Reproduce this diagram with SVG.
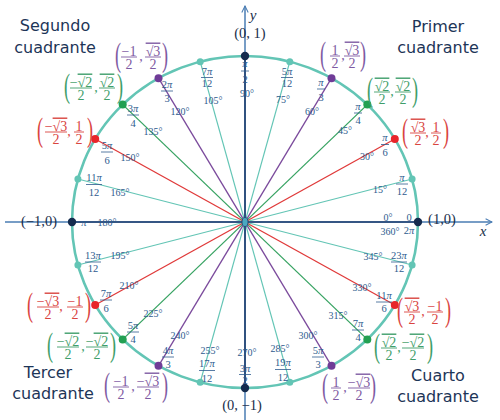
<svg xmlns="http://www.w3.org/2000/svg" width="500" height="420" viewBox="0 0 500 420">
<style>
.bg{fill:#ffffff}
.axis{stroke:#4a7db3;stroke-width:1.5;fill:none}
.nv{stroke:#1f3f6e;stroke-width:1.6}
.tl{stroke:#63c5b5;stroke-width:1.2}
.rd{stroke:#e03a3a;stroke-width:1.3}
.gr{stroke:#37a362;stroke-width:1.3}
.pu{stroke:#7b4a9c;stroke-width:1.3}
.circle{fill:none;stroke:#63c5b5;stroke-width:2.6}
.dtl{fill:#63c5b5}
.drd{fill:#e8252a}
.dgr{fill:#22a052}
.dpu{fill:#6f3c97}
.dnv{fill:#142b4e}
.rad{font-family:"Liberation Serif",serif;font-size:10.5px;fill:#2d5b8e;text-anchor:middle}
.pi{font-style:italic}
.deg{font-family:"Liberation Serif",serif;font-size:10px;fill:#2d5b8e;text-anchor:middle}
.rb{stroke:#2d5b8e;stroke-width:0.8}
.q{font-family:"DejaVu Sans",sans-serif;font-size:16px;fill:#1d3557;text-anchor:middle}
.pt{font-family:"Liberation Serif",serif;font-size:14.5px;fill:#1a2e4a;text-anchor:middle}
.ax{font-family:"Liberation Serif",serif;font-size:15px;font-style:italic;fill:#1a2e4a;text-anchor:middle}
.c{font-family:"Liberation Serif",serif;font-size:14px;text-anchor:middle}
.par{font-family:"Liberation Serif",serif;font-size:33px;text-anchor:middle}
.cpu{fill:#7e5aa2}.cgr{fill:#3f9e6a}.crd{fill:#d9443f}
.bpu{stroke:#7e5aa2;stroke-width:0.9}.bgr{stroke:#3f9e6a;stroke-width:0.9}.brd{stroke:#d9443f;stroke-width:0.9}
.ov{text-decoration:overline}
</style>
<defs>
<marker id="arr" viewBox="0 0 10 10" refX="9" refY="5" markerWidth="8" markerHeight="8" orient="auto" markerUnits="userSpaceOnUse">
<path d="M1,1 L9,5 L1,9" fill="none" stroke="#4a7db3" stroke-width="1.3"/>
</marker>
</defs>
<rect class="bg" x="0" y="0" width="500" height="420"/>

<g id="axes">
<line class="axis" x1="5" y1="222" x2="492" y2="222" marker-end="url(#arr)"/>
<line class="axis" x1="245" y1="420" x2="245" y2="6" marker-end="url(#arr)"/>
<text class="ax" x="483" y="236">x</text>
<text class="ax" x="253" y="20">y</text>
</g>

<g id="connectors">
<line class="tl" x1="412.1" y1="179" x2="77.9" y2="265"/>
<line class="tl" x1="289.8" y1="61.7" x2="200.2" y2="382.3"/>
<line class="tl" x1="200.2" y1="61.7" x2="289.8" y2="382.3"/>
<line class="tl" x1="77.9" y1="179" x2="412.1" y2="265"/>
<line class="rd" x1="394.8" y1="139" x2="95.2" y2="305"/>
<line class="rd" x1="95.2" y1="139" x2="394.8" y2="305"/>
<line class="gr" x1="367.3" y1="104.6" x2="122.7" y2="339.4"/>
<line class="gr" x1="122.7" y1="104.6" x2="367.3" y2="339.4"/>
<line class="pu" x1="331.5" y1="78.2" x2="158.5" y2="365.8"/>
<line class="pu" x1="158.5" y1="78.2" x2="331.5" y2="365.8"/>
<line class="nv" x1="72" y1="222" x2="418" y2="222"/>
<line class="nv" x1="245" y1="56" x2="245" y2="388"/>
</g>

<g id="unit-circle">
<ellipse class="circle" cx="245" cy="222" rx="173" ry="166"/>
</g>

<g id="origin">
<ellipse cx="245" cy="222" rx="3" ry="4.5" fill="#4aa9c0" stroke="#1f3f6e" stroke-width="0.8"/>
</g>

<g id="quadrant-labels">
<text class="q" x="55" y="31">Segundo</text>
<text class="q" x="55" y="53">cuadrante</text>
<text class="q" x="438" y="32">Primer</text>
<text class="q" x="438" y="53">cuadrante</text>
<text class="q" x="48" y="378">Tercer</text>
<text class="q" x="53" y="399">cuadrante</text>
<text class="q" x="438" y="381">Cuarto</text>
<text class="q" x="438" y="402">cuadrante</text>
</g>

<!-- 0 / 360 -->
<g id="p0">
<circle class="dnv" cx="418" cy="222" r="4.2"/>
<text class="rad" x="409" y="221">0</text>
<text class="rad" x="409" y="234">2<tspan class="pi">π</tspan></text>
<text class="deg" x="388" y="221">0°</text>
<text class="deg" x="390" y="235">360°</text>
<text class="pt" x="442" y="224">(1,0)</text>
</g>

<g id="p15">
<circle class="dtl" cx="412.1" cy="179" r="3.5"/>
<text class="rad" x="402" y="180.5"><tspan class="pi">π</tspan></text>
<line class="rb" x1="396" y1="184" x2="408" y2="184"/>
<text class="rad" x="402" y="194.5">12</text>
<text class="deg" x="380" y="192.5">15°</text>
</g>

<g id="p30">
<circle class="drd" cx="394.8" cy="139" r="4"/>
<text class="rad" x="385" y="140.5"><tspan class="pi">π</tspan></text>
<line class="rb" x1="381" y1="144.5" x2="389" y2="144.5"/>
<text class="rad" x="385" y="155.5">6</text>
<text class="deg" x="367" y="159.5">30°</text>
<g>
<text class="par crd" transform="translate(405,142) scale(0.55,1)">(</text>
<text class="c crd" x="418" y="131.5"><tspan class="ov">√3</tspan></text>
<line class="brd" x1="410" y1="133" x2="426" y2="133"/>
<text class="c crd" x="418" y="145">2</text>
<text class="c crd" x="427" y="137">,</text>
<text class="c crd" x="436" y="131.5">1</text>
<line class="brd" x1="431" y1="133" x2="441" y2="133"/>
<text class="c crd" x="436" y="145">2</text>
<text class="par crd" transform="translate(446,142) scale(0.55,1)">)</text>
</g>
</g>

<g id="p45">
<circle class="dgr" cx="367.3" cy="104.6" r="4"/>
<text class="rad" x="358" y="109.5"><tspan class="pi">π</tspan></text>
<line class="rb" x1="354" y1="113" x2="362" y2="113"/>
<text class="rad" x="358" y="123.5">4</text>
<text class="deg" x="345" y="133.5">45°</text>
<g>
<text class="par cgr" transform="translate(370,101) scale(0.55,1)">(</text>
<text class="c cgr" x="382" y="90.5"><tspan class="ov">√2</tspan></text>
<line class="bgr" x1="374" y1="92" x2="390" y2="92"/>
<text class="c cgr" x="382" y="104">2</text>
<text class="c cgr" x="392" y="96">,</text>
<text class="c cgr" x="403" y="90.5"><tspan class="ov">√2</tspan></text>
<line class="bgr" x1="395" y1="92" x2="411" y2="92"/>
<text class="c cgr" x="403" y="104">2</text>
<text class="par cgr" transform="translate(415,101) scale(0.55,1)">)</text>
</g>
</g>

<g id="p60">
<circle class="dpu" cx="331.5" cy="78.2" r="4"/>
<text class="rad" x="321" y="85.5"><tspan class="pi">π</tspan></text>
<line class="rb" x1="317" y1="89" x2="325" y2="89"/>
<text class="rad" x="321" y="100.5">3</text>
<text class="deg" x="312" y="114.5">60°</text>
<g>
<text class="par cpu" transform="translate(323,65) scale(0.55,1)">(</text>
<text class="c cpu" x="335" y="54.5">1</text>
<line class="bpu" x1="330" y1="56" x2="340" y2="56"/>
<text class="c cpu" x="335" y="68">2</text>
<text class="c cpu" x="343" y="60">,</text>
<text class="c cpu" x="352" y="54.5"><tspan class="ov">√3</tspan></text>
<line class="bpu" x1="344" y1="56" x2="360" y2="56"/>
<text class="c cpu" x="352" y="68">2</text>
<text class="par cpu" transform="translate(363,65) scale(0.55,1)">)</text>
</g>
</g>

<g id="p75">
<circle class="dtl" cx="289.8" cy="61.7" r="3.5"/>
<text class="rad" x="287" y="74.5">5<tspan class="pi">π</tspan></text>
<line class="rb" x1="281" y1="77.5" x2="293" y2="77.5"/>
<text class="rad" x="287" y="86.5">12</text>
<text class="deg" x="283" y="102.5">75°</text>
</g>

<g id="p90">
<circle class="dnv" cx="245" cy="56" r="4.2"/>
<text class="rad" x="245" y="66.5"><tspan class="pi">π</tspan></text>
<line class="rb" x1="241" y1="71" x2="249" y2="71"/>
<text class="rad" x="245" y="82.5">2</text>
<text class="deg" x="247" y="96.5">90°</text>
<text class="pt" x="250" y="38">(0, 1)</text>
</g>

<g id="p105">
<circle class="dtl" cx="200.2" cy="61.7" r="3.5"/>
<text class="rad" x="207" y="74.5">7<tspan class="pi">π</tspan></text>
<line class="rb" x1="201" y1="77.5" x2="213" y2="77.5"/>
<text class="rad" x="207" y="86.5">12</text>
<text class="deg" x="213" y="103.5">105°</text>
</g>

<g id="p120">
<circle class="dpu" cx="158.5" cy="78.2" r="4"/>
<text class="rad" x="167" y="87.5">2<tspan class="pi">π</tspan></text>
<line class="rb" x1="161" y1="91" x2="173" y2="91"/>
<text class="rad" x="167" y="101.5">3</text>
<text class="deg" x="180" y="114.5">120°</text>
<g>
<text class="par cpu" transform="translate(118,66) scale(0.55,1)">(</text>
<text class="c cpu" x="129" y="55.5">−1</text>
<line class="bpu" x1="121" y1="57" x2="137" y2="57"/>
<text class="c cpu" x="129" y="69">2</text>
<text class="c cpu" x="141" y="61">,</text>
<text class="c cpu" x="153" y="55.5"><tspan class="ov">√3</tspan></text>
<line class="bpu" x1="145" y1="57" x2="161" y2="57"/>
<text class="c cpu" x="153" y="69">2</text>
<text class="par cpu" transform="translate(165,66) scale(0.55,1)">)</text>
</g>
</g>

<g id="p135">
<circle class="dgr" cx="122.7" cy="104.6" r="4"/>
<text class="rad" x="133" y="111.5">3<tspan class="pi">π</tspan></text>
<line class="rb" x1="127" y1="115" x2="139" y2="115"/>
<text class="rad" x="133" y="126.5">4</text>
<text class="deg" x="153" y="134.5">135°</text>
<g>
<text class="par cgr" transform="translate(67,97) scale(0.55,1)">(</text>
<text class="c cgr" x="81" y="86.5">−<tspan class="ov">√2</tspan></text>
<line class="bgr" x1="70" y1="88" x2="92" y2="88"/>
<text class="c cgr" x="81" y="100">2</text>
<text class="c cgr" x="96" y="92">,</text>
<text class="c cgr" x="107" y="86.5"><tspan class="ov">√2</tspan></text>
<line class="bgr" x1="99" y1="88" x2="115" y2="88"/>
<text class="c cgr" x="107" y="100">2</text>
<text class="par cgr" transform="translate(120,97) scale(0.55,1)">)</text>
</g>
</g>

<g id="p150">
<circle class="drd" cx="95.2" cy="139" r="4"/>
<text class="rad" x="107" y="148.5">5<tspan class="pi">π</tspan></text>
<line class="rb" x1="101" y1="152" x2="113" y2="152"/>
<text class="rad" x="107" y="163.5">6</text>
<text class="deg" x="130" y="160.5">150°</text>
<g>
<text class="par crd" transform="translate(40,141) scale(0.55,1)">(</text>
<text class="c crd" x="56" y="130.5">−<tspan class="ov">√3</tspan></text>
<line class="brd" x1="45" y1="132" x2="67" y2="132"/>
<text class="c crd" x="56" y="144">2</text>
<text class="c crd" x="69" y="136">,</text>
<text class="c crd" x="79" y="130.5">1</text>
<line class="brd" x1="74" y1="132" x2="84" y2="132"/>
<text class="c crd" x="79" y="144">2</text>
<text class="par crd" transform="translate(90,141) scale(0.55,1)">)</text>
</g>
</g>

<g id="p165">
<circle class="dtl" cx="77.9" cy="179" r="3.5"/>
<text class="rad" x="94" y="180.5">11<tspan class="pi">π</tspan></text>
<line class="rb" x1="86" y1="184.5" x2="102" y2="184.5"/>
<text class="rad" x="94" y="195.5">12</text>
<text class="deg" x="120" y="195.5">165°</text>
</g>

<g id="p180">
<circle class="dnv" cx="72" cy="222" r="4.2"/>
<text class="rad" x="84" y="225.5"><tspan class="pi">π</tspan></text>
<text class="deg" x="107" y="225.5">180°</text>
<text class="pt" x="39" y="226">(−1,0)</text>
</g>

<g id="p195">
<circle class="dtl" cx="77.9" cy="265" r="3.5"/>
<text class="rad" x="93" y="258.5">13<tspan class="pi">π</tspan></text>
<line class="rb" x1="85" y1="262" x2="101" y2="262"/>
<text class="rad" x="93" y="272">12</text>
<text class="deg" x="120" y="258.5">195°</text>
</g>

<g id="p210">
<circle class="drd" cx="95.2" cy="305" r="4"/>
<text class="rad" x="106" y="296.5">7<tspan class="pi">π</tspan></text>
<line class="rb" x1="100" y1="300" x2="112" y2="300"/>
<text class="rad" x="106" y="311.5">6</text>
<text class="deg" x="129" y="288.5">210°</text>
<g>
<text class="par crd" transform="translate(30,316) scale(0.55,1)">(</text>
<text class="c crd" x="48" y="305.5">−<tspan class="ov">√3</tspan></text>
<line class="brd" x1="37" y1="307" x2="59" y2="307"/>
<text class="c crd" x="48" y="319">2</text>
<text class="c crd" x="61" y="311">,</text>
<text class="c crd" x="75" y="305.5">−1</text>
<line class="brd" x1="67" y1="307" x2="83" y2="307"/>
<text class="c crd" x="75" y="319">2</text>
<text class="par crd" transform="translate(88,316) scale(0.55,1)">)</text>
</g>
</g>

<g id="p225">
<circle class="dgr" cx="122.7" cy="339.4" r="4"/>
<text class="rad" x="133" y="328.5">5<tspan class="pi">π</tspan></text>
<line class="rb" x1="127" y1="332" x2="139" y2="332"/>
<text class="rad" x="133" y="342.5">4</text>
<text class="deg" x="153" y="316.5">225°</text>
<g>
<text class="par cgr" transform="translate(50,356) scale(0.55,1)">(</text>
<text class="c cgr" x="68" y="345.5">−<tspan class="ov">√2</tspan></text>
<line class="bgr" x1="57" y1="347" x2="79" y2="347"/>
<text class="c cgr" x="68" y="359">2</text>
<text class="c cgr" x="83" y="351">,</text>
<text class="c cgr" x="97" y="345.5">−<tspan class="ov">√2</tspan></text>
<line class="bgr" x1="86" y1="347" x2="108" y2="347"/>
<text class="c cgr" x="97" y="359">2</text>
<text class="par cgr" transform="translate(113,356) scale(0.55,1)">)</text>
</g>
</g>

<g id="p240">
<circle class="dpu" cx="158.5" cy="365.8" r="4"/>
<text class="rad" x="168" y="353.5">4<tspan class="pi">π</tspan></text>
<line class="rb" x1="162" y1="357" x2="174" y2="357"/>
<text class="rad" x="168" y="367.5">3</text>
<text class="deg" x="180" y="338.5">240°</text>
<g>
<text class="par cpu" transform="translate(107,396) scale(0.55,1)">(</text>
<text class="c cpu" x="121" y="385.5">−1</text>
<line class="bpu" x1="113" y1="387" x2="129" y2="387"/>
<text class="c cpu" x="121" y="399">2</text>
<text class="c cpu" x="133" y="391">,</text>
<text class="c cpu" x="148" y="385.5">−<tspan class="ov">√3</tspan></text>
<line class="bpu" x1="137" y1="387" x2="159" y2="387"/>
<text class="c cpu" x="148" y="399">2</text>
<text class="par cpu" transform="translate(165,396) scale(0.55,1)">)</text>
</g>
</g>

<g id="p255">
<circle class="dtl" cx="200.2" cy="382.3" r="3.5"/>
<text class="rad" x="207" y="366.5">17<tspan class="pi">π</tspan></text>
<line class="rb" x1="199" y1="370.5" x2="215" y2="370.5"/>
<text class="rad" x="207" y="381.5">12</text>
<text class="deg" x="210" y="353.5">255°</text>
</g>

<g id="p270">
<circle class="dnv" cx="245" cy="388" r="4.2"/>
<text class="rad" x="245" y="371.5">3<tspan class="pi">π</tspan></text>
<line class="rb" x1="239" y1="374.5" x2="251" y2="374.5"/>
<text class="rad" x="245" y="383.5">2</text>
<text class="deg" x="247" y="355.5">270°</text>
<text class="pt" x="242" y="410">(0, −1)</text>
</g>

<g id="p285">
<circle class="dtl" cx="289.8" cy="382.3" r="3.5"/>
<text class="rad" x="283" y="365.5">19<tspan class="pi">π</tspan></text>
<line class="rb" x1="275" y1="369.5" x2="291" y2="369.5"/>
<text class="rad" x="283" y="380.5">12</text>
<text class="deg" x="280" y="351.5">285°</text>
</g>

<g id="p300">
<circle class="dpu" cx="331.5" cy="365.8" r="4"/>
<text class="rad" x="318" y="353.5">5<tspan class="pi">π</tspan></text>
<line class="rb" x1="312" y1="357" x2="324" y2="357"/>
<text class="rad" x="318" y="367.5">3</text>
<text class="deg" x="308" y="338.5">300°</text>
<g>
<text class="par cpu" transform="translate(325,397) scale(0.55,1)">(</text>
<text class="c cpu" x="336" y="386.5">1</text>
<line class="bpu" x1="331" y1="388" x2="341" y2="388"/>
<text class="c cpu" x="336" y="400">2</text>
<text class="c cpu" x="345" y="392">,</text>
<text class="c cpu" x="359" y="386.5">−<tspan class="ov">√3</tspan></text>
<line class="bpu" x1="348" y1="388" x2="370" y2="388"/>
<text class="c cpu" x="359" y="400">2</text>
<text class="par cpu" transform="translate(373,397) scale(0.55,1)">)</text>
</g>
</g>

<g id="p315">
<circle class="dgr" cx="367.3" cy="339.4" r="4"/>
<text class="rad" x="358" y="326.5">7<tspan class="pi">π</tspan></text>
<line class="rb" x1="352" y1="330" x2="364" y2="330"/>
<text class="rad" x="358" y="340.5">4</text>
<text class="deg" x="338" y="318.5">315°</text>
<g>
<text class="par cgr" transform="translate(377,357) scale(0.55,1)">(</text>
<text class="c cgr" x="389" y="346.5"><tspan class="ov">√2</tspan></text>
<line class="bgr" x1="381" y1="348" x2="397" y2="348"/>
<text class="c cgr" x="389" y="360">2</text>
<text class="c cgr" x="399" y="352">,</text>
<text class="c cgr" x="413" y="346.5">−<tspan class="ov">√2</tspan></text>
<line class="bgr" x1="402" y1="348" x2="424" y2="348"/>
<text class="c cgr" x="413" y="360">2</text>
<text class="par cgr" transform="translate(430,357) scale(0.55,1)">)</text>
</g>
</g>

<g id="p330">
<circle class="drd" cx="394.8" cy="305" r="4"/>
<text class="rad" x="384" y="298.5">11<tspan class="pi">π</tspan></text>
<line class="rb" x1="376" y1="302" x2="392" y2="302"/>
<text class="rad" x="384" y="311.5">6</text>
<text class="deg" x="362" y="290.5">330°</text>
<g>
<text class="par crd" transform="translate(400,321) scale(0.55,1)">(</text>
<text class="c crd" x="412" y="310.5"><tspan class="ov">√3</tspan></text>
<line class="brd" x1="404" y1="312" x2="420" y2="312"/>
<text class="c crd" x="412" y="324">2</text>
<text class="c crd" x="423" y="316">,</text>
<text class="c crd" x="435" y="310.5">−1</text>
<line class="brd" x1="427" y1="312" x2="443" y2="312"/>
<text class="c crd" x="435" y="324">2</text>
<text class="par crd" transform="translate(448,321) scale(0.55,1)">)</text>
</g>
</g>

<g id="p345">
<circle class="dtl" cx="412.1" cy="265" r="3.5"/>
<text class="rad" x="399" y="258.5">23<tspan class="pi">π</tspan></text>
<line class="rb" x1="391" y1="262" x2="407" y2="262"/>
<text class="rad" x="399" y="272">12</text>
<text class="deg" x="373" y="259.5">345°</text>
</g>
</svg>
